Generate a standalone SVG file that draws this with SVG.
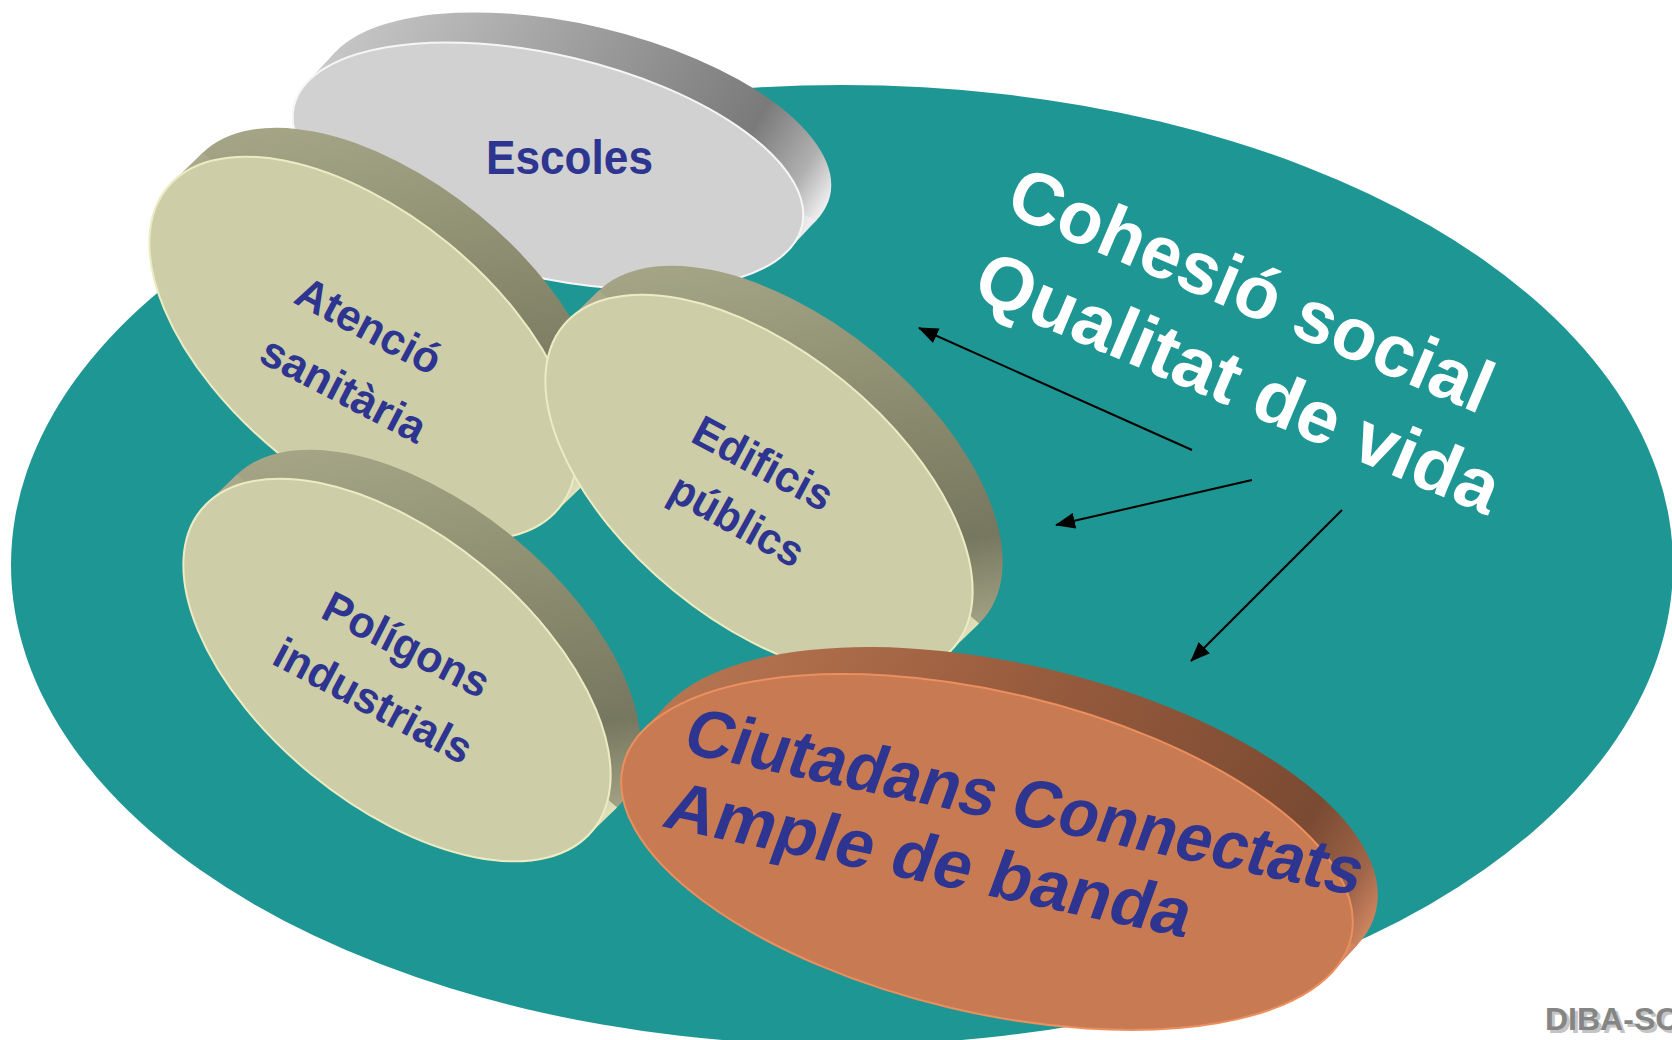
<svg xmlns="http://www.w3.org/2000/svg" width="1672" height="1040" viewBox="0 0 1672 1040">
<style>
.lbl{font-family:"Liberation Sans",Arial,sans-serif;font-weight:bold;fill:#2d3590;}
.big{font-family:"Liberation Sans",Arial,sans-serif;font-weight:bold;}
.kface{fill:#cdcda7;stroke:#ececc4;stroke-width:2;}
.conn{stroke:#000;stroke-width:2;fill:none;marker-end:url(#ah);}
</style>
<defs>
<marker id="ah" markerUnits="userSpaceOnUse" markerWidth="20" markerHeight="16" refX="19" refY="8" orient="auto">
<path d="M0,0 L20,8 L0,16 z" fill="#000"/>
</marker>
<linearGradient id="gEsc" gradientUnits="userSpaceOnUse" x1="321" y1="67" x2="803" y2="235">
<stop offset="0" stop-color="#c8c8c8"/><stop offset="0.45" stop-color="#9c9c9c"/><stop offset="0.8" stop-color="#7a7a7a"/><stop offset="0.93" stop-color="#b0b0b0"/><stop offset="1" stop-color="#ececec"/>
</linearGradient>
<linearGradient id="gAte" gradientUnits="userSpaceOnUse" x1="188" y1="167" x2="568" y2="500">
<stop offset="0" stop-color="#abab8c"/><stop offset="0.45" stop-color="#8a8a6e"/><stop offset="0.72" stop-color="#76775f"/><stop offset="0.9" stop-color="#a4a486"/><stop offset="1" stop-color="#e0e0ba"/>
</linearGradient>
<linearGradient id="gEdi" gradientUnits="userSpaceOnUse" x1="584" y1="305" x2="964" y2="638">
<stop offset="0" stop-color="#abab8c"/><stop offset="0.45" stop-color="#8a8a6e"/><stop offset="0.72" stop-color="#76775f"/><stop offset="0.9" stop-color="#a4a486"/><stop offset="1" stop-color="#e0e0ba"/>
</linearGradient>
<linearGradient id="gPol" gradientUnits="userSpaceOnUse" x1="222" y1="489" x2="602" y2="822">
<stop offset="0" stop-color="#abab8c"/><stop offset="0.45" stop-color="#8a8a6e"/><stop offset="0.72" stop-color="#76775f"/><stop offset="0.9" stop-color="#a4a486"/><stop offset="1" stop-color="#e0e0ba"/>
</linearGradient>
<linearGradient id="gCiu" gradientUnits="userSpaceOnUse" x1="654" y1="718" x2="1345" y2="959">
<stop offset="0" stop-color="#b87652"/><stop offset="0.4" stop-color="#9a5d3e"/><stop offset="0.85" stop-color="#7a4a32"/><stop offset="0.95" stop-color="#a0664a"/><stop offset="1" stop-color="#d08560"/>
</linearGradient>
</defs>
<rect width="1672" height="1040" fill="#fff"/>

<g id="cohesio">
<ellipse cx="842" cy="565" rx="831" ry="480" fill="#1e9694"/>
<text class="big" fill="#fff" font-size="74" textLength="518" lengthAdjust="spacingAndGlyphs" transform="translate(1003,212) rotate(23)">Cohesió social</text>
<text class="big" fill="#fff" font-size="74" textLength="562" lengthAdjust="spacingAndGlyphs" transform="translate(970,296) rotate(23)">Qualitat de vida</text>
</g>

<g id="escoles">
<ellipse cx="576" cy="136" rx="261" ry="111" transform="rotate(13.3 576 136)" fill="url(#gEsc)"/>
<polygon points="307.2,82.2 788.8,249.8 816.8,219.8 335.2,52.2" fill="url(#gEsc)"/>
<ellipse cx="548" cy="166" rx="261" ry="111" transform="rotate(13.3 548 166)" fill="#d1d1d1" stroke="#f6f6f6" stroke-width="2"/>
<text class="lbl" font-size="48" x="486" y="174" textLength="167" lengthAdjust="spacingAndGlyphs">Escoles</text>
</g>

<g id="atencio">
<ellipse cx="393" cy="319" rx="253" ry="135" transform="rotate(39.3 393 319)" fill="url(#gAte)"/>
<polygon points="172.9,181.6 553.1,514.4 583.1,485.4 202.9,152.6" fill="url(#gAte)"/>
<ellipse class="kface" cx="363" cy="348" rx="253" ry="135" transform="rotate(39.3 363 348)"/>
<text class="lbl" font-size="44" textLength="158" lengthAdjust="spacingAndGlyphs" transform="translate(292,302) rotate(28)">Atenció</text>
<text class="lbl" font-size="44" textLength="180" lengthAdjust="spacingAndGlyphs" transform="translate(257,361) rotate(27.5)">sanitària</text>
</g>

<g id="edificis">
<ellipse cx="789" cy="457" rx="253" ry="135" transform="rotate(39.3 789 457)" fill="url(#gEdi)"/>
<polygon points="568.9,319.6 949.1,652.4 979.1,623.4 598.9,290.6" fill="url(#gEdi)"/>
<ellipse class="kface" cx="759" cy="486" rx="253" ry="135" transform="rotate(39.3 759 486)"/>
<text class="lbl" font-size="44" textLength="152" lengthAdjust="spacingAndGlyphs" transform="translate(689,441) rotate(28)">Edificis</text>
<text class="lbl" font-size="44" textLength="146" lengthAdjust="spacingAndGlyphs" transform="translate(666,498) rotate(29)">públics</text>
</g>

<g id="poligons">
<ellipse cx="427" cy="641" rx="253" ry="135" transform="rotate(39.3 427 641)" fill="url(#gPol)"/>
<polygon points="206.9,503.6 587.1,836.4 617.1,807.4 236.9,474.6" fill="url(#gPol)"/>
<ellipse class="kface" cx="397" cy="670" rx="253" ry="135" transform="rotate(39.3 397 670)"/>
<text class="lbl" font-size="44" textLength="181" lengthAdjust="spacingAndGlyphs" transform="translate(319,617) rotate(27)">Polígons</text>
<text class="lbl" font-size="44" textLength="218" lengthAdjust="spacingAndGlyphs" transform="translate(270,663) rotate(28)">industrials</text>
</g>

<g id="ciutadans">
<ellipse cx="1012" cy="825" rx="374" ry="160" transform="rotate(13.3 1012 825)" fill="url(#gCiu)"/>
<polygon points="641.8,731.8 1332.2,972.2 1357.2,945.2 666.8,704.8" fill="url(#gCiu)"/>
<ellipse cx="987" cy="852" rx="374" ry="160" transform="rotate(13.3 987 852)" fill="#c87a53" stroke="#ec8f5e" stroke-width="2"/>
<text class="big" fill="#2d3590" font-size="68" textLength="690" lengthAdjust="spacingAndGlyphs" transform="translate(680,752) rotate(12) skewX(-8)">Ciutadans Connectats</text>
<text class="big" fill="#2d3590" font-size="68" textLength="535" lengthAdjust="spacingAndGlyphs" transform="translate(660,826) rotate(12) skewX(-8)">Ample de banda</text>
</g>

<g id="connectors">
<line class="conn" x1="1192" y1="450" x2="919" y2="328"/>
<line class="conn" x1="1252" y1="480" x2="1056" y2="525"/>
<line class="conn" x1="1342" y1="510" x2="1191" y2="661"/>
</g>

<g id="footer">
<text class="big" font-size="32" x="1548" y="1033" fill="#c4c4c4">DIBA-SC</text>
<text class="big" font-size="32" x="1545" y="1030" fill="#858585">DIBA-SC</text>
</g>
</svg>
